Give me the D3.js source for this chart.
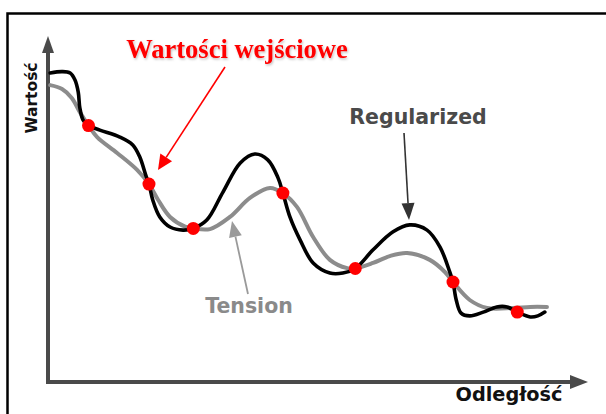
<!DOCTYPE html>
<html>
<head>
<meta charset="utf-8">
<script src="https://cdn.jsdelivr.net/npm/d3@7"></script>
<style>
  html, body { margin: 0; padding: 0; background: #fff; }
  svg { display: block; }
</style>
</head>
<body>
<svg id="chart" width="606" height="414"></svg>
<script>
// Input values (red points): distance, value
const inputDistance = [7.5, 18.7, 26.9, 43.5, 56.9, 75.0, 86.9];
const inputValue    = [74.1, 57.2, 44.4, 54.6, 32.8, 28.9, 20.2];

// Regularized spline (black)
const regularizedDistance = [0.4, 2.6, 4.1, 5.0, 5.6, 5.9, 6.5, 7.5, 9.6, 13.3, 15.7, 17.0, 18.1, 18.7,
  19.4, 20.7, 22.6, 25.0, 26.9, 29.4, 32.4, 35.6, 38.3, 40.7, 42.6, 43.5, 44.8, 46.7, 49.1, 52.2,
  54.6, 56.9, 60.2, 63.9, 67.0, 70.2, 72.6, 74.4, 75.0, 75.6, 76.5, 78.1, 80.6, 83.1, 85.0, 86.9,
  89.3, 90.7, 92.0];
const regularizedValue = [89.3, 89.7, 89.3, 87.3, 83.8, 79.2, 75.7, 74.1, 72.8, 70.8, 68.5, 65.0, 59.8, 57.2,
  52.6, 47.7, 44.8, 43.9, 44.4, 46.8, 54.9, 63.3, 65.9, 64.2, 59.0, 54.6, 47.7, 41.0, 34.4, 31.5,
  31.5, 32.8, 38.2, 43.4, 45.4, 43.9, 39.0, 31.8, 28.9, 23.7, 19.9, 19.1, 20.2, 21.7, 21.7, 20.2,
  18.8, 19.1, 20.2];

// Tension spline (grey)
const tensionDistance = [0.4, 2.6, 4.4, 5.9, 7.5, 9.1, 12.8, 16.5, 18.7, 20.4, 22.6, 25.4, 26.9, 30.0,
  33.7, 37.4, 41.1, 43.5, 46.1, 49.1, 52.2, 55.4, 56.9, 60.2, 63.3, 66.5, 70.7, 73.5, 75.0, 78.1,
  81.3, 86.1, 89.3, 92.4];
const tensionValue = [85.8, 84.7, 82.1, 78.0, 74.1, 70.8, 66.2, 61.3, 57.2, 52.6, 47.7, 44.9, 44.4, 44.2,
  47.7, 53.2, 56.1, 54.6, 50.6, 41.9, 35.3, 32.9, 32.8, 34.4, 36.4, 37.3, 35.3, 31.8, 28.9, 23.7,
  21.4, 21.4, 21.7, 21.7];

const svg = d3.select("#chart");

const x = d3.scaleLinear().domain([0, 100]).range([48, 588]);
const y = d3.scaleLinear().domain([0, 100]).range([382, 36]);

// Outer frame
svg.append("rect")
  .attr("x", 7.5).attr("y", 13.5)
  .attr("width", 620).attr("height", 420)
  .attr("fill", "#fff").attr("stroke", "#000").attr("stroke-width", 2.5);

const defs = svg.append("defs");
const shadow = defs.append("filter").attr("id", "titleShadow")
  .attr("x", "-5%").attr("y", "-20%").attr("width", "110%").attr("height", "140%");
shadow.append("feDropShadow")
  .attr("dx", 1).attr("dy", 1.5).attr("stdDeviation", 1)
  .attr("flood-color", "#000").attr("flood-opacity", 0.25);

// Axes with arrow heads
const axisColor = "#4a4a4a";
svg.append("line")
  .attr("x1", x(0)).attr("y1", y(0) + 2).attr("x2", x(0)).attr("y2", 50)
  .attr("stroke", axisColor).attr("stroke-width", 4);
svg.append("path")
  .attr("d", `M${x(0) - 6},53 L${x(0)},36 L${x(0) + 6},53 Z`)
  .attr("fill", axisColor);
svg.append("line")
  .attr("x1", x(0) - 2).attr("y1", y(0)).attr("x2", 574).attr("y2", y(0))
  .attr("stroke", axisColor).attr("stroke-width", 4);
svg.append("path")
  .attr("d", `M570,${y(0) - 7} L588,${y(0)} L570,${y(0) + 7} Z`)
  .attr("fill", axisColor);

// Axis titles
svg.append("text")
  .attr("transform", `translate(37,98) rotate(-90)`)
  .attr("text-anchor", "middle")
  .attr("font-family", "DejaVu Sans")
  .attr("font-weight", "bold")
  .attr("font-size", 15.5)
  .attr("fill", "#111")
  .text("Wartość");
svg.append("text")
  .attr("x", 509).attr("y", 401)
  .attr("text-anchor", "middle")
  .attr("font-family", "DejaVu Sans")
  .attr("font-weight", "bold")
  .attr("font-size", 19.3)
  .attr("fill", "#111")
  .text("Odległość");

const line = d3.line()
  .x(d => x(d[0]))
  .y(d => y(d[1]))
  .curve(d3.curveCatmullRom.alpha(0.5));

const tensionData = tensionDistance.map((d, i) => [d, tensionValue[i]]);
const regularizedData = regularizedDistance.map((d, i) => [d, regularizedValue[i]]);
const inputData = inputDistance.map((d, i) => [d, inputValue[i]]);

svg.append("path")
  .datum(tensionData)
  .attr("d", line)
  .attr("fill", "none")
  .attr("stroke", "#8c8c8c")
  .attr("stroke-width", 4)
  .attr("stroke-linecap", "round")
  .attr("stroke-linejoin", "round");

svg.append("path")
  .datum(regularizedData)
  .attr("d", line)
  .attr("fill", "none")
  .attr("stroke", "#000")
  .attr("stroke-width", 3.6)
  .attr("stroke-linecap", "round")
  .attr("stroke-linejoin", "round");

svg.selectAll("circle.input")
  .data(inputData)
  .join("circle")
  .attr("class", "input")
  .attr("cx", d => x(d[0]))
  .attr("cy", d => y(d[1]))
  .attr("r", 6.5)
  .attr("fill", "#f00");

// Annotations
function arrow(x1, y1, x2, y2, color, width, headLen, headHalf) {
  const ang = Math.atan2(y2 - y1, x2 - x1);
  const bx = x2 - headLen * Math.cos(ang), by = y2 - headLen * Math.sin(ang);
  svg.append("line")
    .attr("x1", x1).attr("y1", y1).attr("x2", bx).attr("y2", by)
    .attr("stroke", color).attr("stroke-width", width);
  const px = -Math.sin(ang) * headHalf, py = Math.cos(ang) * headHalf;
  svg.append("path")
    .attr("d", `M${x2},${y2} L${bx + px},${by + py} L${bx - px},${by - py} Z`)
    .attr("fill", color);
}

svg.append("text")
  .attr("x", 237).attr("y", 58)
  .attr("text-anchor", "middle")
  .attr("font-family", "Liberation Serif")
  .attr("font-weight", "bold")
  .attr("font-size", 26.5)
  .attr("fill", "#ff0000")
  .attr("filter", "url(#titleShadow)")
  .text("Wartości wejściowe");
arrow(225, 67, 158, 170, "#ff0000", 1.6, 15, 7);

svg.append("text")
  .attr("x", 418).attr("y", 124)
  .attr("text-anchor", "middle")
  .attr("font-family", "DejaVu Sans")
  .attr("font-weight", "bold")
  .attr("font-size", 20.5)
  .attr("fill", "#4a4a4a")
  .text("Regularized");
arrow(404, 133, 409, 220, "#333", 1.6, 17, 6.5);

svg.append("text")
  .attr("x", 249).attr("y", 313)
  .attr("text-anchor", "middle")
  .attr("font-family", "DejaVu Sans")
  .attr("font-weight", "bold")
  .attr("font-size", 20.5)
  .attr("fill", "#8a8a8a")
  .text("Tension");
arrow(248, 294, 232, 221, "#9a9a9a", 1.8, 16, 6.5);
</script>
</body>
</html>
